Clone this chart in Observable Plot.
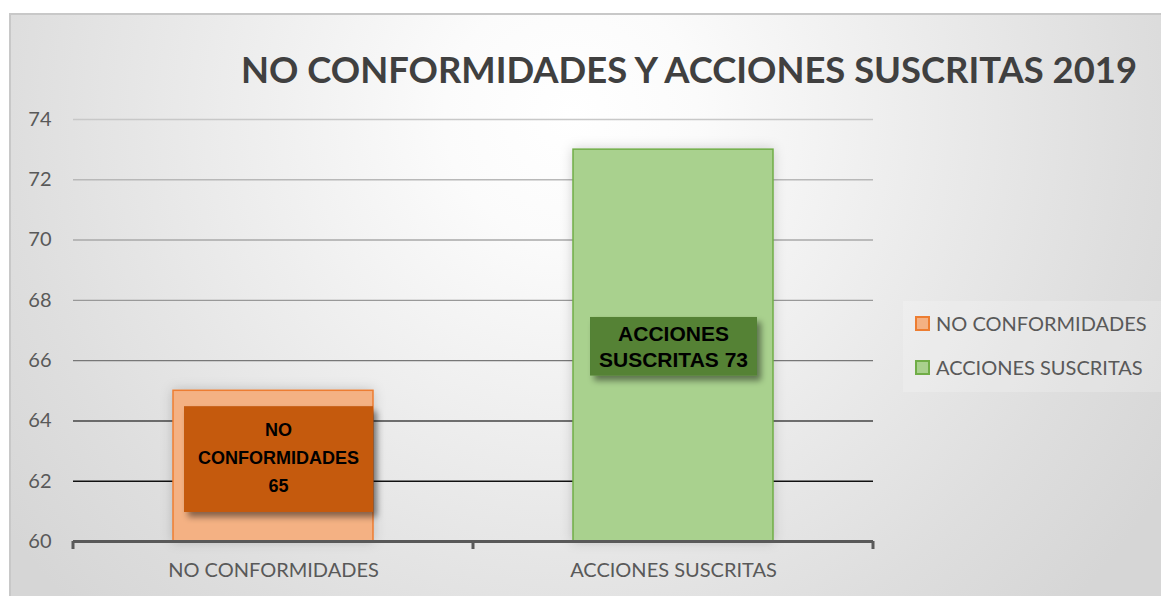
<!DOCTYPE html>
<html>
<head>
<meta charset="utf-8">
<script src="https://cdn.jsdelivr.net/npm/d3@7"></script>
<script src="https://cdn.jsdelivr.net/npm/@observablehq/plot@0.6"></script>
<style>
  html, body { margin: 0; padding: 0; background: #fff; }
  #wrap { position: relative; width: 1161px; height: 596px; overflow: hidden; background: #fff; }
  #frame { position: absolute; left: 9px; top: 13px; width: 1170px; height: 600px;
    border: 2px solid #c8c8c8; box-sizing: border-box;
    background: radial-gradient(circle 700px at 560px 100px, #ffffff 0%, #fbfbfb 18%, #ececec 50%, #dedede 80%, #d6d6d6 100%); }
  #chart { position: absolute; left: 0; top: 0; }
  #legend { position: absolute; left: 903px; top: 301px; width: 260px; height: 91px;
    background: rgba(255,255,255,0.2); font-family: Lato, "Open Sans", sans-serif; font-size: 20px; color: #595959; }
  .item { position: absolute; left: 12px; height: 24px; line-height: 24px; white-space: nowrap; }
  .sw { display: inline-block; width: 11px; height: 11px; border: 2px solid; vertical-align: middle; margin-right: 6px; position: relative; top: -2px; }
</style>
</head>
<body>
<div id="wrap">
  <div id="frame"></div>
  <div id="chart"></div>
  <div id="legend"></div>
</div>
<script>
const title = "NO CONFORMIDADES Y ACCIONES SUSCRITAS 2019";
const categories = ["NO CONFORMIDADES", "ACCIONES SUSCRITAS"];
const values = [65, 73];
const labelLines = [["NO", "CONFORMIDADES", "65"], ["ACCIONES", "SUSCRITAS 73"]];
const yTicks = [60, 62, 64, 66, 68, 70, 72, 74];
const yDomain = [60, 74];

const barFill = ["#F4B183", "#A9D18E"];
const barStroke = ["#ED7D31", "#70AD47"];
const boxFill = ["#C55A11", "#548235"];

const data = categories.map((c, i) => ({cat: c, value: values[i], label: labelLines[i].join("\n"), i}));
const base = yDomain[0];

const gridColor = d3.scaleLinear().domain([62, 64, 66, 68, 74]).range(["#111111", "#444444", "#777777", "#999999", "#c8c8c8"]);

const plot = Plot.plot({
  width: 1161, height: 596,
  marginLeft: 73, marginRight: 288, marginTop: 119, marginBottom: 55,
  style: {background: "transparent", fontFamily: "Lato, 'Open Sans', sans-serif", fontSize: "20px", color: "#595959"},
  x: {domain: categories, paddingInner: 0.5, paddingOuter: 0.25, label: null},
  y: {domain: yDomain, label: null},
  marks: [
    Plot.ruleY(yTicks.filter(t => t > base), {stroke: d => gridColor(d), strokeWidth: 1.4}),
    Plot.axisY({ticks: yTicks, tickSize: 0, tickPadding: 22, label: null, fill: "#595959", fontSize: 20}),
    Plot.axisX({tickSize: 0, tickPadding: 21, label: null, fill: "#595959", fontSize: 20}),
    Plot.barY(data, {x: "cat", y1: base, y2: "value", fill: d => barFill[d.i], stroke: d => barStroke[d.i], strokeWidth: 1.5, className: "bars"}),
    Plot.ruleY([base], {stroke: "#595959", strokeWidth: 3}),
    Plot.text(data.filter(d => d.i === 0), {x: "cat", y: d => (base + d.value) / 2, text: "label", dx: 5, dy: -11,
      fontSize: 18, lineHeight: 1.55, fontWeight: "bold", fontFamily: "Arial, 'Liberation Sans', sans-serif", fill: "#000", className: "lbl"}),
    Plot.text(data.filter(d => d.i === 1), {x: "cat", y: d => (base + d.value) / 2, text: "label",
      fontSize: 21, lineHeight: 1.22, fontWeight: "bold", fontFamily: "Arial, 'Liberation Sans', sans-serif", fill: "#000", className: "lbl"})
  ]
});
document.getElementById("chart").appendChild(plot);

const svg = d3.select(plot);
// filters
const defs = svg.insert("defs", ":first-child");
const f = defs.append("filter").attr("id", "shadow").attr("x", "-20%").attr("y", "-20%").attr("width", "150%").attr("height", "160%");
f.append("feDropShadow").attr("dx", 4).attr("dy", 5).attr("stdDeviation", 3).attr("flood-color", "#000").attr("flood-opacity", 0.45);
const g2 = defs.append("filter").attr("id", "glow").attr("x", "-20%").attr("y", "-20%").attr("width", "140%").attr("height", "140%");
g2.append("feDropShadow").attr("dx", 0).attr("dy", 0).attr("stdDeviation", 6).attr("flood-color", "#000").attr("flood-opacity", 0.18);
svg.selectAll("g.bars rect").attr("filter", "url(#glow)");

// category boundary ticks on the axis, from the x scale
const xs = plot.scale("x");
const ys = plot.scale("y");
const step = xs.step, bw = xs.bandwidth;
const x0 = xs.apply(categories[0]) + bw / 2 - step / 2;
const y0 = ys.apply(base);
const tickG = svg.append("g");
for (let k = 0; k <= categories.length; k++) {
  tickG.append("line").attr("x1", x0 + k * step).attr("x2", x0 + k * step)
    .attr("y1", y0).attr("y2", y0 + 8).attr("stroke", "#595959").attr("stroke-width", 3);
}

// label boxes behind label texts
const pads = [{px: 14, pt: 14, pb: 16}, {px: 9, pt: 5, pb: 5}];
svg.selectAll("g.lbl").each(function(_, gi) {
  const g = d3.select(this);
  g.selectAll("text").each(function() {
    const bb = this.getBBox();
    const p = pads[gi];
    const r = document.createElementNS("http://www.w3.org/2000/svg", "rect");
    d3.select(r).attr("x", bb.x - p.px).attr("y", bb.y - p.pt)
      .attr("width", bb.width + 2 * p.px).attr("height", bb.height + p.pt + p.pb)
      .attr("fill", boxFill[gi]).attr("filter", "url(#shadow)");
    const tr = this.getAttribute("transform");
    if (tr) r.setAttribute("transform", tr);
    this.parentNode.insertBefore(r, this);
  });
});

// title
svg.append("text").attr("x", 689).attr("y", 83).attr("text-anchor", "middle")
  .attr("font-family", "Lato, 'Open Sans', sans-serif").attr("font-weight", "bold").attr("font-size", 36)
  .attr("fill", "#404040").attr("textLength", 896).attr("lengthAdjust", "spacingAndGlyphs").text(title);

// legend
const leg = d3.select("#legend");
categories.forEach((c, i) => {
  const it = leg.append("div").attr("class", "item").style("top", (i === 0 ? 10 : 54) + "px");
  it.append("span").attr("class", "sw").style("background", barFill[i]).style("border-color", barStroke[i]);
  it.append("span").text(c);
});
</script>
</body>
</html>
